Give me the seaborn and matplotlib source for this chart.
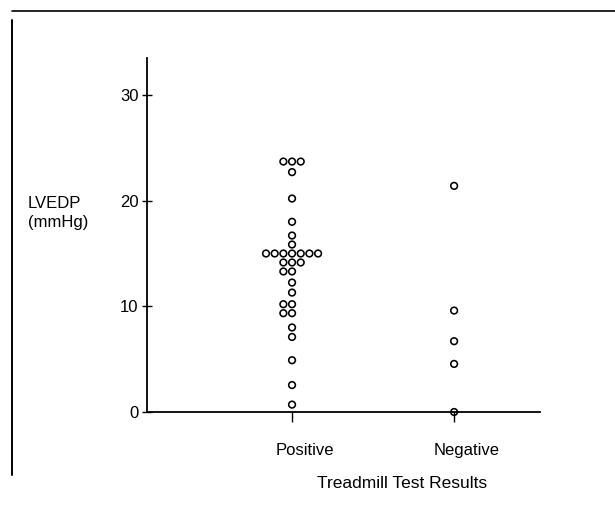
import matplotlib
matplotlib.use("Agg")
import matplotlib.pyplot as plt
import matplotlib.transforms as mtransforms
from matplotlib.lines import Line2D
import pandas as pd
import seaborn as sns

# ---- data ----
categories = ["Positive", "Negative"]
positive_lvedp = [23.7, 23.7, 23.7, 22.7, 20.2, 18.0, 16.7, 15.85,
                  15.0, 15.0, 15.0, 15.0, 15.0, 15.0, 15.0,
                  14.15, 14.15, 14.15, 13.3, 13.3, 12.25, 11.3,
                  10.2, 10.2, 9.35, 9.35, 8.0, 7.1, 4.9, 2.55, 0.7]
negative_lvedp = [21.4, 9.6, 6.7, 4.55, 0.0]
y_ticks = [0, 10, 20, 30]
y_label = "LVEDP\n(mmHg)"
x_label = "Treadmill Test Results"

df = pd.DataFrame({
    "result": [categories[0]] * len(positive_lvedp) + [categories[1]] * len(negative_lvedp),
    "lvedp": positive_lvedp + negative_lvedp,
})

sns.set_style("ticks")
plt.rcParams["font.family"] = ["Liberation Sans", "DejaVu Sans"]
plt.rcParams["text.color"] = "black"
plt.rcParams["axes.labelcolor"] = "black"

W, H = 615, 505
fig = plt.figure(figsize=(W / 100, H / 100), dpi=100)
ax_l, ax_r, ax_b, ax_t = 147, 540, 412, 58
ax = fig.add_axes([ax_l / W, 1 - ax_b / H, (ax_r - ax_l) / W, (ax_b - ax_t) / H])

sns.swarmplot(data=df, x="result", y="lvedp", order=categories, ax=ax,
              color="black", size=4.8, linewidth=1.15, edgecolor="black")
for coll in ax.collections:
    coll.set_facecolor("none")
    coll.set_edgecolor("black")
    coll.set_clip_on(False)

ax.set_xlim(-0.895, 1.53)
ax.set_ylim(0, 33.5)
ax.set_yticks(y_ticks)
ax.set_yticklabels([str(t) for t in y_ticks])

for s in ["top", "right"]:
    ax.spines[s].set_visible(False)
for s in ["left", "bottom"]:
    ax.spines[s].set_linewidth(1.3)
    ax.spines[s].set_color("black")

ax.tick_params(axis="y", direction="inout", length=6.5, width=1.0,
               labelsize=12, pad=3, colors="black")
ax.tick_params(axis="x", direction="out", length=7, width=1.0,
               labelsize=12, pad=15, colors="black")

offset = mtransforms.ScaledTranslation(0.13, 0, fig.dpi_scale_trans)
for lab in ax.get_xticklabels():
    lab.set_transform(lab.get_transform() + offset)

ax.set_ylabel("")
ax.set_xlabel(x_label, fontsize=12.5, va="center", color="black")
ax.xaxis.set_label_coords((402 - ax_l) / (ax_r - ax_l), -(483 - ax_b) / (ax_b - ax_t))

fig.text(28 / W, 1 - 213 / H, y_label, fontsize=12, ha="left", va="center",
         linespacing=1.35, color="black")

# scanned page frame lines
fig.add_artist(Line2D([12 / W, 1.0], [1 - 11 / H, 1 - 11 / H], color="black", lw=1.2))
fig.add_artist(Line2D([12 / W, 12 / W], [1 - 20 / H, 1 - 475 / H], color="black", lw=1.4))

fig.savefig("out.png", dpi=100)
